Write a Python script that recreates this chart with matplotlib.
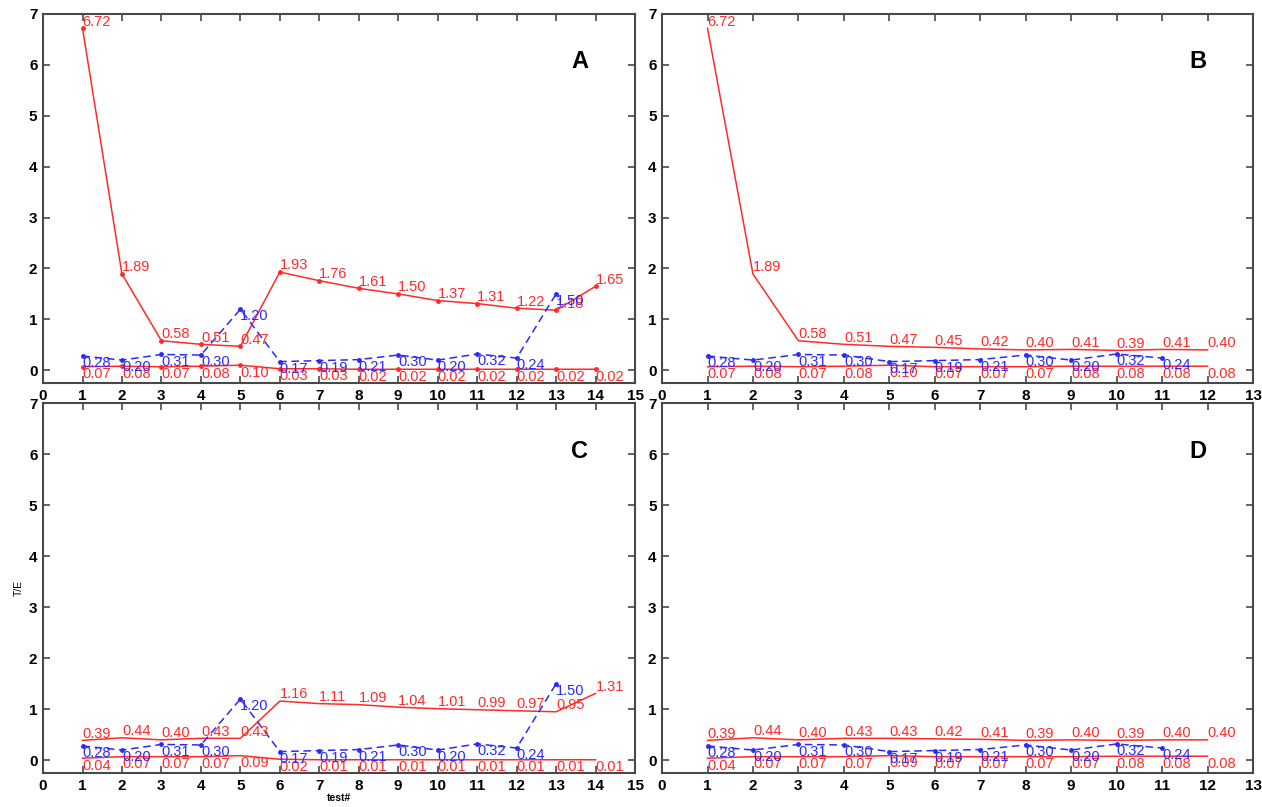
import matplotlib
matplotlib.use("Agg")
import matplotlib.pyplot as plt
import numpy as np

plt.rcParams["font.family"] = ["Liberation Sans", "DejaVu Sans"]

# ---------------------------------------------------------------------------
# Data
# ---------------------------------------------------------------------------
tests_14 = np.arange(1, 15)
tests_13 = np.arange(1, 14)
tests_12 = np.arange(1, 13)
tests_11 = np.arange(1, 12)

# blue dashed series (shared by A/C and B/D)
blue_ac = [0.28, 0.20, 0.31, 0.30, 1.20, 0.17, 0.19, 0.21, 0.30, 0.20, 0.32, 0.24, 1.50]
blue_bd = [0.28, 0.20, 0.31, 0.30, 0.17, 0.19, 0.21, 0.30, 0.20, 0.32, 0.24]

# panel A
a_upper = [6.72, 1.89, 0.58, 0.51, 0.47, 1.93, 1.76, 1.61, 1.50, 1.37, 1.31, 1.22, 1.18, 1.65]
a_lower = [0.07, 0.08, 0.07, 0.08, 0.10, 0.03, 0.03, 0.02, 0.02, 0.02, 0.02, 0.02, 0.02, 0.02]

# panel B
b_upper = [6.72, 1.89, 0.58, 0.51, 0.47, 0.45, 0.42, 0.40, 0.41, 0.39, 0.41, 0.40]
b_lower = [0.07, 0.08, 0.07, 0.08, 0.10, 0.07, 0.07, 0.07, 0.08, 0.08, 0.08, 0.08]

# panel C
c_upper = [0.39, 0.44, 0.40, 0.43, 0.43, 1.16, 1.11, 1.09, 1.04, 1.01, 0.99, 0.97, 0.95, 1.31]
c_lower = [0.04, 0.07, 0.07, 0.07, 0.09, 0.02, 0.01, 0.01, 0.01, 0.01, 0.01, 0.01, 0.01, 0.01]

# panel D
d_upper = [0.39, 0.44, 0.40, 0.43, 0.43, 0.42, 0.41, 0.39, 0.40, 0.39, 0.40, 0.40]
d_lower = [0.04, 0.07, 0.07, 0.07, 0.09, 0.07, 0.07, 0.07, 0.07, 0.08, 0.08, 0.08]

RED = "#ff2a2a"
BLUE = "#2a2aff"
FRAME = "#484848"


def style_axes(ax, xmax):
    ax.set_xlim(0, xmax)
    ax.set_ylim(-0.25, 7)
    ax.set_xticks(range(0, xmax + 1))
    ax.set_yticks(range(0, 8))
    ax.tick_params(direction="in", top=True, right=True, length=5,
                   width=1.2, color=FRAME, labelsize=11, pad=4)
    for lab in ax.get_xticklabels() + ax.get_yticklabels():
        lab.set_fontweight("bold")
    for sp in ax.spines.values():
        sp.set_color(FRAME)
        sp.set_linewidth(1.5)


def label_points(ax, xs, ys, dy, color):
    for x, y in zip(xs, ys):
        ax.text(x, y + dy, f"{y:.2f}", color=color, fontsize=10.5,
                ha="left", va="center")


def draw_panel(ax, xmax, x_up, upper, x_lo, lower, x_bl, blue, letter, red_marks):
    mk = "." if red_marks else None
    ax.plot(x_up, upper, color=RED, lw=1.1, marker=mk, ms=5)
    ax.plot(x_lo, lower, color=RED, lw=1.1, marker=mk, ms=5)
    ax.plot(x_bl, blue, color=BLUE, lw=1.1, ls=(0, (5, 3)), marker=".", ms=5)
    label_points(ax, x_up, upper, 0.13, RED)
    label_points(ax, x_lo, lower, -0.15, RED)
    label_points(ax, x_bl, blue, -0.14, BLUE)
    ax.text(0.907, 0.87, letter, transform=ax.transAxes, fontsize=17,
            fontweight="bold", ha="center", va="center")
    style_axes(ax, xmax)


fig = plt.figure(figsize=(12.62, 8.07), dpi=100)
ax_a = fig.add_axes([0.0341, 0.5254, 0.4691, 0.4573])
ax_b = fig.add_axes([0.5246, 0.5254, 0.4683, 0.4573])
ax_c = fig.add_axes([0.0341, 0.0421, 0.4691, 0.4585])
ax_d = fig.add_axes([0.5246, 0.0421, 0.4683, 0.4585])

draw_panel(ax_a, 15, tests_14, a_upper, tests_14, a_lower, tests_13, blue_ac, "A", True)
draw_panel(ax_b, 13, tests_12, b_upper, tests_12, b_lower, tests_11, blue_bd, "B", False)
draw_panel(ax_c, 15, tests_14, c_upper, tests_14, c_lower, tests_13, blue_ac, "C", False)
draw_panel(ax_d, 13, tests_12, d_upper, tests_12, d_lower, tests_11, blue_bd, "D", False)

ax_c.set_xlabel("test#", fontsize=7.5, fontweight="bold", labelpad=0)
ax_c.set_ylabel("T/E", fontsize=7.5, labelpad=4)

fig.savefig("out.png", dpi=100)
